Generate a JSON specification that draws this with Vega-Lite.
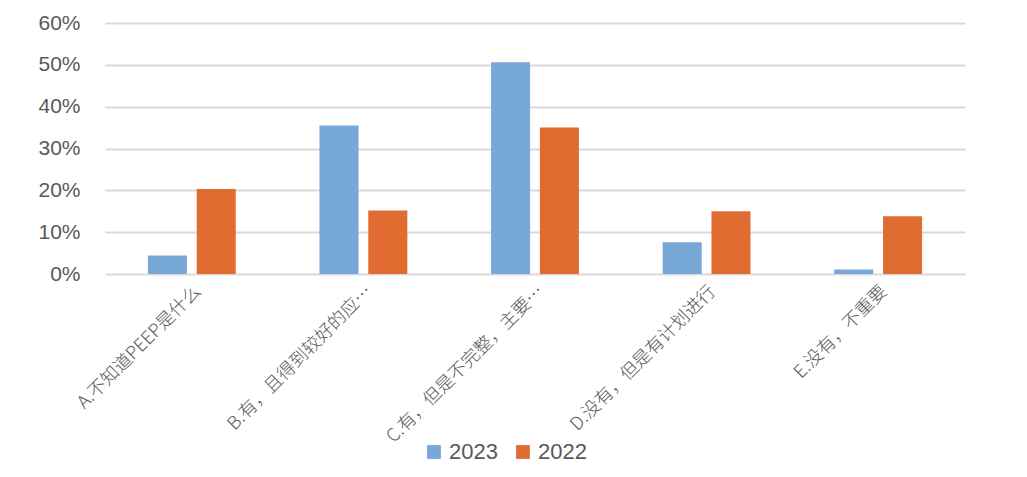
{
  "$schema": "https://vega.github.io/schema/vega-lite/v6.json",
  "width": 860,
  "height": 251,
  "autosize": {"type": "none"},
  "padding": {"left": 105, "top": 23, "right": 62, "bottom": 203},
  "background": "white",
  "data": {
    "values": [
      {"cat": "A.不知道PEEP是什么", "year": "2023", "value": 0.044},
      {"cat": "A.不知道PEEP是什么", "year": "2022", "value": 0.203},
      {"cat": "B.有，且得到较好的应…", "year": "2023", "value": 0.355},
      {"cat": "B.有，且得到较好的应…", "year": "2022", "value": 0.152},
      {"cat": "C.有，但是不完整，主要…", "year": "2023", "value": 0.506},
      {"cat": "C.有，但是不完整，主要…", "year": "2022", "value": 0.35},
      {"cat": "D.没有，但是有计划进行", "year": "2023", "value": 0.076},
      {"cat": "D.没有，但是有计划进行", "year": "2022", "value": 0.15},
      {"cat": "E.没有，不重要", "year": "2023", "value": 0.011},
      {"cat": "E.没有，不重要", "year": "2022", "value": 0.138}
    ]
  },
  "mark": {"type": "bar"},
  "encoding": {
    "x": {
      "field": "cat",
      "type": "nominal",
      "sort": null,
      "title": null,
      "scale": {"paddingInner": 0.488, "paddingOuter": 0.25},
      "axis": {
        "labelAngle": -45,
        "labelAlign": "right",
        "labelBaseline": "top",
        "labelFont": "Noto Sans CJK SC",
        "labelFontSize": 18,
        "labelFontWeight": 300,
        "labelColor": "#595959",
        "labelPadding": 8,
        "labelLimit": 400,
        "domain": false,
        "ticks": false,
        "grid": false
      }
    },
    "xOffset": {
      "field": "year",
      "type": "nominal",
      "sort": ["2023", "2022"],
      "scale": {"paddingInner": 0.2, "paddingOuter": 0}
    },
    "y": {
      "field": "value",
      "type": "quantitative",
      "title": null,
      "scale": {"domain": [0, 0.6]},
      "axis": {
        "values": [0, 0.1, 0.2, 0.3, 0.4, 0.5, 0.6],
        "format": ".0%",
        "labelFont": "Liberation Sans",
        "labelFontSize": 21,
        "labelColor": "#595959",
        "labelPadding": 25,
        "domain": false,
        "ticks": false,
        "gridColor": "#d9d9d9",
        "gridWidth": 2
      }
    },
    "color": {
      "field": "year",
      "type": "nominal",
      "sort": ["2023", "2022"],
      "scale": {"domain": ["2023", "2022"], "range": ["#78a8d8", "#e06c32"]},
      "legend": {
        "title": null,
        "orient": "none",
        "direction": "horizontal",
        "legendX": 318,
        "legendY": 418,
        "symbolType": "square",
        "symbolSize": 190,
        "symbolStrokeWidth": 0,
        "labelFont": "Liberation Sans",
        "labelFontSize": 22,
        "labelColor": "#595959",
        "labelOffset": 4,
        "columnPadding": 14
      }
    }
  },
  "config": {"view": {"stroke": null}}
}
